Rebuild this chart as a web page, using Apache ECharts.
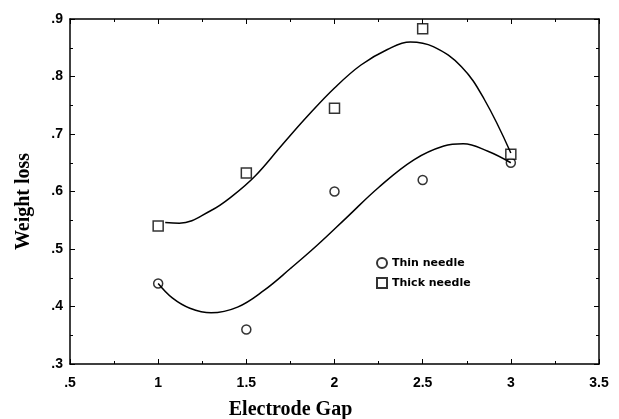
<!DOCTYPE html>
<html>
<head>
<meta charset="utf-8">
<script src="https://cdn.jsdelivr.net/npm/echarts@6/dist/echarts.min.js"></script>
<style>
  html, body { margin: 0; padding: 0; background: #fff; }
  #chart { width: 619px; height: 419px; }
</style>
</head>
<body>
<div id="chart"></div>
<script>
// measured points
var gapValues = [1, 1.5, 2, 2.5, 3]
var thinNeedle = [0.44, 0.36, 0.60, 0.62, 0.65]
var thickNeedle = [0.54, 0.632, 0.745, 0.883, 0.665]

// fitted curves
var thinCurveX = [1.0, 1.08, 1.18, 1.3, 1.45, 1.6, 1.75, 1.9, 2.07, 2.25, 2.45, 2.62, 2.73, 2.87, 3.0]
var thinCurveY = [0.44, 0.415, 0.397, 0.389, 0.399, 0.428, 0.466, 0.506, 0.555, 0.607, 0.655, 0.679, 0.683, 0.67, 0.65]
var thickCurveX = [1.04, 1.12, 1.3, 1.42, 1.55, 1.7, 1.85, 2.0, 2.15, 2.3, 2.43, 2.56, 2.72, 2.85, 3.0]
var thickCurveY = [0.546, 0.545, 0.567, 0.592, 0.627, 0.68, 0.732, 0.78, 0.82, 0.847, 0.86, 0.852, 0.817, 0.76, 0.667]

function zip(xs, ys) {
  return xs.map(function (x, i) { return [x, ys[i]] })
}
function fmt(v) {
  return String(+v.toFixed(2)).replace(/^0\./, '.')
}

var chart = echarts.init(document.getElementById('chart'))

var tickFont = { color: '#000', fontSize: 14, fontWeight: 'bold', fontFamily: 'Liberation Sans, Arial' }
var titleFont = { color: '#000', fontSize: 20, fontWeight: 'bold', fontFamily: 'Liberation Serif, Times New Roman' }
var line = { lineStyle: { color: '#000', width: 1.5 } }

function xAx(pos, showLabel) {
  return {
    type: 'value', position: pos, min: 0.5, max: 3.5, interval: 0.5,
    axisLine: line,
    axisTick: { inside: true, length: 5, lineStyle: { color: '#000' } },
    minorTick: { show: true, splitNumber: 2, length: 3, lineStyle: { color: '#000' } },
    axisLabel: { show: showLabel, formatter: fmt, margin: 12, textStyle: tickFont },
    splitLine: { show: false }
  }
}
function yAx(pos, showLabel) {
  return {
    type: 'value', position: pos, min: 0.3, max: 0.9, interval: 0.1,
    axisLine: line,
    axisTick: { inside: true, length: 5, lineStyle: { color: '#000' } },
    minorTick: { show: true, splitNumber: 2, length: 3, lineStyle: { color: '#000' } },
    axisLabel: { show: showLabel, formatter: fmt, margin: 7, textStyle: tickFont },
    splitLine: { show: false }
  }
}

var bottomX = xAx('bottom', true)
bottomX.name = 'Electrode Gap'
bottomX.nameLocation = 'middle'
bottomX.nameGap = 36
bottomX.nameTextStyle = Object.assign({ padding: [0, 88, 0, 0] }, titleFont)
var leftY = yAx('left', true)
leftY.name = 'Weight loss'
leftY.nameLocation = 'middle'
leftY.nameGap = 36
leftY.nameTextStyle = Object.assign({ padding: [0, 20, 0, 0] }, titleFont)

chart.setOption({
  animation: false,
  backgroundColor: '#fff',
  grid: { left: 70, right: 20, top: 19, bottom: 55, outerBoundsMode: 'none' },
  xAxis: [bottomX, xAx('top', false)],
  yAxis: [leftY, yAx('right', false)],
  legend: {
    orient: 'vertical', left: 371, top: 252, itemGap: 8,
    itemWidth: 10, itemHeight: 10,
    data: ['Thin needle', 'Thick needle'],
    textStyle: { color: '#000', fontSize: 11, fontWeight: 'bold', fontFamily: 'DejaVu Sans' }
  },
  series: [
    {
      name: 'thin fit', type: 'line', smooth: 0.4, showSymbol: false, silent: true,
      data: zip(thinCurveX, thinCurveY),
      lineStyle: { color: '#000', width: 1.5 }
    },
    {
      name: 'thick fit', type: 'line', smooth: 0.4, showSymbol: false, silent: true,
      data: zip(thickCurveX, thickCurveY),
      lineStyle: { color: '#000', width: 1.5 }
    },
    {
      name: 'Thin needle', type: 'scatter', symbol: 'circle', symbolSize: 9,
      data: zip(gapValues, thinNeedle),
      itemStyle: { color: '#fff', borderColor: '#000', borderWidth: 1.5 }
    },
    {
      name: 'Thick needle', type: 'scatter', symbol: 'rect', symbolSize: 10,
      data: zip(gapValues, thickNeedle),
      itemStyle: { color: '#fff', borderColor: '#000', borderWidth: 1.5 }
    }
  ]
})
</script>
</body>
</html>
